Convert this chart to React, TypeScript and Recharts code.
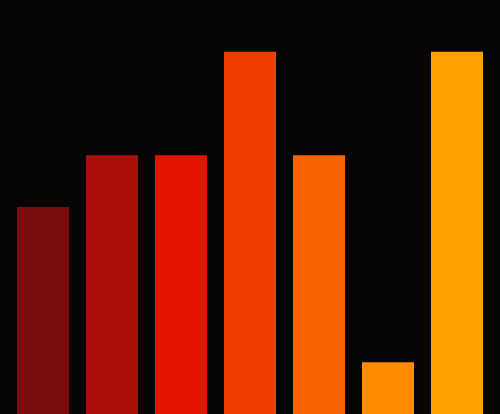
import { BarChart, Bar, XAxis, YAxis, Cell } from 'recharts';

const categories = ['A', 'B', 'C', 'D', 'E', 'F', 'G'];
const values = [4, 5, 5, 7, 5, 1, 7];
const colors = ['#7a0c10', '#ab0f08', '#e31500', '#f03c00', '#fa6400', '#ff8c00', '#ffa000'];

const data = categories.map((name, i) => ({ name, value: values[i] }));

export default function App() {
  return (
    <div style={{ position: 'fixed', left: 0, top: 0, width: 500, height: 414, background: '#040406' }}>
      <BarChart
        width={500}
        height={414}
        data={data}
        margin={{ top: 0, right: 8.5, bottom: 0, left: 8.5 }}
        barCategoryGap={8.5}
      >
        <XAxis dataKey="name" hide />
        <YAxis hide domain={[0, 8]} />
        <Bar dataKey="value" isAnimationActive={false}>
          {data.map((d, i) => (
            <Cell key={d.name} fill={colors[i]} />
          ))}
        </Bar>
      </BarChart>
    </div>
  );
}
